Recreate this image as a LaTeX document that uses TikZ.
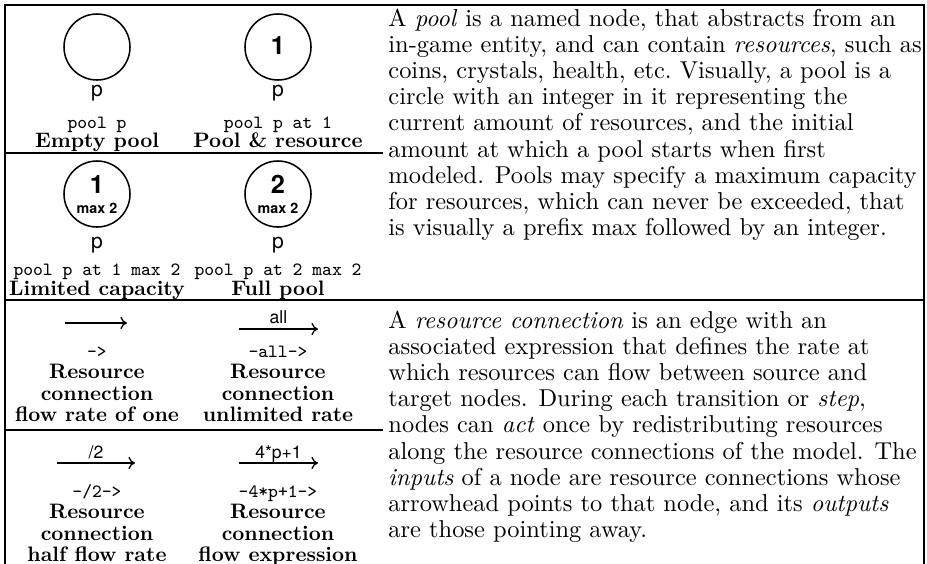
\documentclass[tikz,border=0pt]{standalone}
\usepackage{fontspec}
\newfontfamily\hv{TeX Gyre Heros}
% text face of the ten-point design, used at every size for the running text
\newfontfamily\lmten{lmroman10-regular.otf}[ItalicFont=lmroman10-italic.otf, BoldFont=lmroman10-bold.otf]
\usetikzlibrary{arrows.meta}
\begin{document}
\begin{tikzpicture}[x=0.4545pt,y=-0.4545pt,
  rule/.style={line width=1.2pt},
  pool/.style={circle, draw, line width=0.7pt, minimum size=30pt, inner sep=0pt},
  lab/.style={font=\hv\fontsize{9.6}{10}\selectfont, inner sep=0pt, anchor=base},
  num/.style={font=\hv\bfseries\fontsize{11.5}{12}\selectfont, inner sep=0pt, anchor=base},
  maxlab/.style={font=\hv\bfseries\fontsize{6.5}{7}\selectfont, inner sep=0pt, anchor=base},
  code/.style={font=\ttfamily\fontsize{8.5}{9}\selectfont, inner sep=0pt, anchor=base},
  title/.style={font=\bfseries\fontsize{9.5}{10}\selectfont, inner sep=0pt, anchor=base},
  rate/.style={font=\hv\fontsize{8}{9}\selectfont, inner sep=0pt, anchor=base},
  body/.style={font=\lmten\fontsize{11.1}{12}\selectfont, inner sep=0pt, anchor=base west},
  flow/.style={line width=0.6pt, -{To[length=3pt,width=5.5pt]}}]
\useasboundingbox (0,0) rectangle (927,564);

% table rules
\draw[rule] (5,564) -- (5,5) -- (924,5) -- (924,564);
\draw[rule] (5,153) -- (383,153);
\draw[rule] (5,300) -- (924,300);
\draw[rule] (5,430) -- (383,430);

% ---- pools, first row
\node[pool] (pe) at (97,47) {};
\node[lab] (pel) at (97,96) {p};
\node[code] (pec) at (97,128) {pool p};
\node[title] (pet) at (97,147) {Empty pool};

\node[pool] (pr) at (278,47) {};
\node[num] (prn) at (278,54) {1};
\node[lab] (prl) at (278,96) {p};
\node[code] (prc) at (278,128) {pool p at 1};
\node[title] (prt) at (278,147) {Pool \& resource};

% ---- pools, second row
\node[pool] (pl) at (97,194) {};
\node[num] (pln) at (97,193) {1};
\node[maxlab] (plm) at (97,213) {max 2};
\node[lab] (pll) at (97,248) {p};
\node[code] (plc) at (97,275) {pool p at 1 max 2};
\node[title] (plt) at (97,295) {Limited capacity};

\node[pool] (pf) at (278,194) {};
\node[num] (pfn) at (278,193) {2};
\node[maxlab] (pfm) at (278,213) {max 2};
\node[lab] (pfl) at (278,248) {p};
\node[code] (pfc) at (278,275) {pool p at 2 max 2};
\node[title] (pft) at (278,295) {Full pool};

% ---- resource connections, first row
\coordinate (c1s) at (65,323);
\coordinate (c1e) at (127,323);
\draw[flow] (c1s) -- (c1e);
\node[code] (c1c) at (97,357) {->};
\node[title] (c1a) at (97,378) {Resource};
\node[title] (c1b) at (97,400) {connection};
\node[title] (c1d) at (97,421) {flow rate of one};

\coordinate (c2s) at (239,329);
\coordinate (c2e) at (318,329);
\draw[flow] (c2s) -- node[rate, anchor=base, yshift=6*0.4545pt] (c2r) {all} (c2e);
\node[code] (c2c) at (278,357) {-all->};
\node[title] (c2a) at (278,378) {Resource};
\node[title] (c2b) at (278,400) {connection};
\node[title] (c2d) at (278,421) {unlimited rate};

% ---- resource connections, second row
\coordinate (c3s) at (57,463);
\coordinate (c3e) at (135,463);
\draw[flow] (c3s) -- node[rate, anchor=base, yshift=5*0.4545pt] (c3r) {/2} (c3e);
\node[code] (c3c) at (97,497) {-/2->};
\node[title] (c3a) at (97,518) {Resource};
\node[title] (c3b) at (97,540) {connection};
\node[title] (c3d) at (97,561) {half flow rate};

\coordinate (c4s) at (239,463);
\coordinate (c4e) at (318,463);
\draw[flow] (c4s) -- node[rate, anchor=base, yshift=5*0.4545pt] (c4r) {4*p+1} (c4e);
\node[code] (c4c) at (278,497) {-4*p+1->};
\node[title] (c4a) at (278,518) {Resource};
\node[title] (c4b) at (278,540) {connection};
\node[title] (c4d) at (278,561) {flow expression};

% ---- description of pools (ragged right, one node per line)
\node[body] (d1) at (388,26)  {A \emph{pool} is a named node, that abstracts from an};
\node[body] (d2) at (388,52.2) {in-game entity, and can contain \emph{resources}, such as};
\node[body] (d3) at (388,78.4) {coins, crystals, health, etc.\ Visually, a pool is a};
\node[body] (d4) at (388,104.6) {circle with an integer in it representing the};
\node[body] (d5) at (388,130.8) {current amount of resources, and the initial};
\node[body] (d6) at (388,157) {amount at which a pool starts when first};
\node[body] (d7) at (388,183.2) {modeled. Pools may specify a maximum capacity};
\node[body] (d8) at (388,209.4) {for resources, which can never be exceeded, that};
\node[body] (d9) at (388,235.6) {is visually a prefix max followed by an integer.};

% ---- description of resource connections
\node[body] (e1) at (388,328)   {A \emph{resource connection} is an edge with an};
\node[body] (e2) at (388,354.2) {associated expression that defines the rate at};
\node[body] (e3) at (388,380.4) {which resources can flow between source and};
\node[body] (e4) at (388,406.6) {target nodes. During each transition or \emph{step},};
\node[body] (e5) at (388,432.8) {nodes can \emph{act} once by redistributing resources};
\node[body] (e6) at (388,459)   {along the resource connections of the model. The};
\node[body] (e7) at (388,485.2) {\emph{inputs} of a node are resource connections whose};
\node[body] (e8) at (388,511.4) {arrowhead points to that node, and its \emph{outputs}};
\node[body] (e9) at (388,537.6) {are those pointing away.};
\end{tikzpicture}
\end{document}
